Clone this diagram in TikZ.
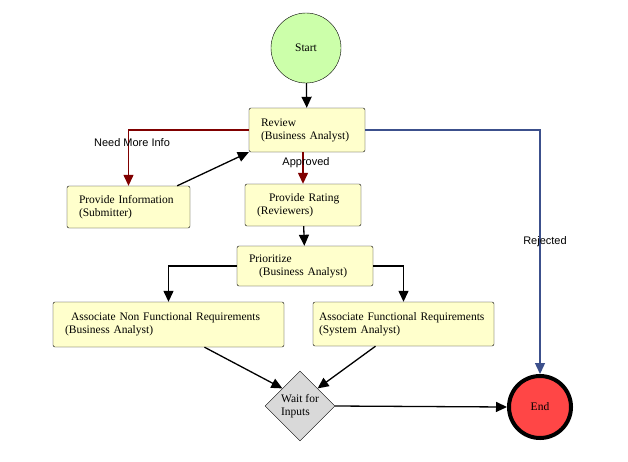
\documentclass[tikz,border=0pt]{standalone}
\usepackage{fontspec}
\setmainfont{Liberation Serif}
\newfontfamily\labelfont{Liberation Sans}
\usetikzlibrary{shapes.geometric, arrows.meta, positioning, calc}
\definecolor{startgreen}{RGB}{204, 255, 170}
\definecolor{endred}{RGB}{255, 70, 70}
\definecolor{taskyellow}{RGB}{255, 255, 204}
\definecolor{flowred}{RGB}{128, 0, 0}
\definecolor{flowblue}{RGB}{60, 80, 140}
\tikzset{
  task/.style={draw, rounded corners=2pt, fill=taskyellow, font=\fontsize{11.5}{13}\selectfont, align=left, inner xsep=12pt, inner ysep=0pt},
  flow/.style={-{Triangle[length=11pt,width=10pt]}, line width=1.3pt},
  lbl/.style={font=\labelfont\fontsize{11}{12}\selectfont}
}
\begin{document}
\begin{tikzpicture}[x=1pt, y=-1pt]
  \useasboundingbox (0,0) rectangle (628,461);

  % events
  \node[circle, draw, fill=startgreen, minimum size=70pt, font=\fontsize{11.5}{12}\selectfont] (start) at (306,48) {Start};
  \node[circle, draw, line width=4pt, fill=endred, minimum size=62pt, font=\fontsize{11.5}{12}\selectfont] (end) at (540,407) {End};

  % tasks
  \node[task, text width=92pt, minimum height=44pt] (review) at (307,130) {Review\\(Business Analyst)};
  \node[task, text width=99pt, minimum height=42pt] (info) at (128.5,207) {Provide Information\\(Submitter)};
  \node[task, text width=92pt, minimum height=42pt] (rating) at (303,205) {\hspace*{12pt}Provide Rating\\(Reviewers)};
  \node[task, text width=112pt, minimum height=40pt] (prior) at (305,266) {Prioritize\\\hspace*{10pt}(Business Analyst)};
  \node[task, text width=207pt, minimum height=45pt] (nonfunc) at (168.5,324.5) {\hspace*{6pt}Associate Non Functional Requirements\\(Business Analyst)};
  \node[task, text width=173pt, inner xsep=4pt, minimum height=44pt] (func) at (403.5,324) {\hspace*{2pt}Associate Functional Requirements\\\hspace*{2pt}(System Analyst)};

  % gateway
  \node[diamond, draw, fill=gray!30, minimum width=70pt, minimum height=70pt, inner sep=0pt, align=left, font=\fontsize{11.5}{13}\selectfont] (wait) at (300,406) {Wait for\\Inputs};

  % connectors
  \draw[flow] (start) -- (review);
  \draw[flow, flowred] (review.west) -| (info.north);
  \node[lbl] (needinfo) at (132,143) {Need More Info};
  \draw[flow] (info.north east) ++(-13pt,0) coordinate (infoout) (infoout) -- (review.south west);
  \draw[flow, flowred] (review.south -| rating.north) -- (rating.north);
  \node[lbl] (approved) at (306,163) {Approved};
  \draw[flow] (rating) -- (prior);
  \draw[flow] (prior.west) -| (nonfunc.north);
  \draw[flow] (prior.east) -| (func.north);
  \draw[flow] ($(nonfunc.south)+(36pt,0)$) coordinate (nfout) -- (wait.north west);
  \draw[flow] ($(func.south)+(-28pt,0)$) coordinate (fout) -- (wait.north east);
  \draw[flow] (wait.east) -- (end.west);
  \draw[flow, flowblue] (review.east) -| (end.north);
  \node[lbl] (rejected) at (545,242) {Rejected};
\end{tikzpicture}
\end{document}
